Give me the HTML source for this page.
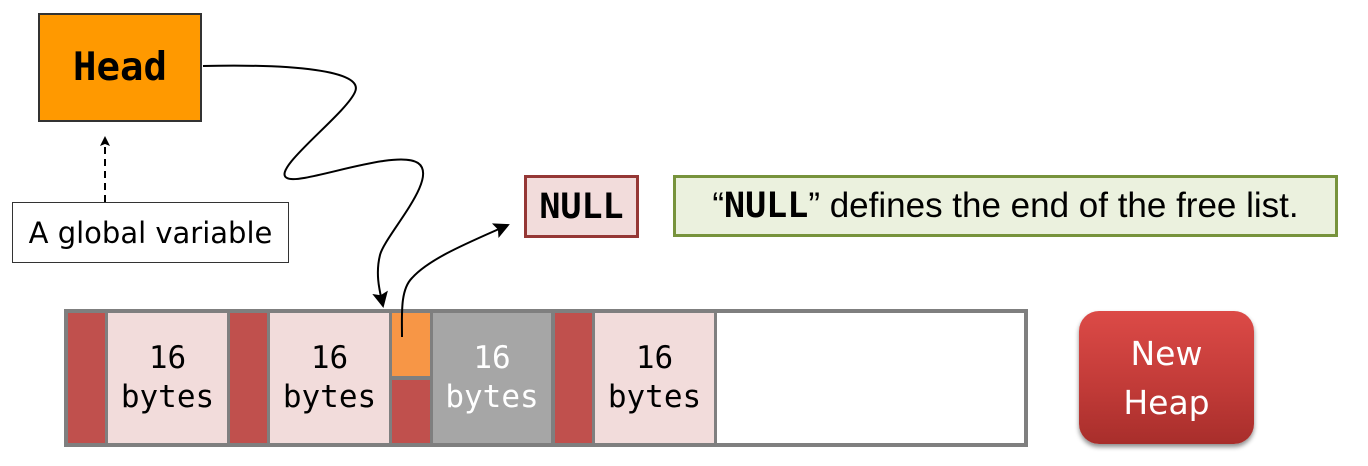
<!DOCTYPE html>
<html><head><meta charset="utf-8"><style>
html,body{margin:0;padding:0;background:#fff;}
body{width:1368px;height:466px;position:relative;overflow:hidden;font-family:"Liberation Sans",sans-serif;}
.a{position:absolute;box-sizing:border-box;}
.cell{position:absolute;box-sizing:border-box;font-family:"DejaVu Sans Mono","Liberation Mono",monospace;font-size:31px;line-height:39px;text-align:center;display:flex;align-items:center;justify-content:center;}
</style></head><body>
<div class="a" style="left:38px;top:13px;width:164px;height:109px;background:#ff9900;border:2px solid #333;display:flex;align-items:center;justify-content:center;font-family:'DejaVu Sans Mono',monospace;font-weight:bold;font-size:39px;">Head</div>
<div class="a" style="left:12px;top:202px;width:277px;height:61px;border:1.5px solid #333;background:#fff;font-family:'DejaVu Sans',sans-serif;font-size:29px;display:flex;align-items:center;justify-content:center;">A global variable</div>
<div class="a" style="left:524px;top:175px;width:115px;height:63px;border:3px solid #953735;background:#f2dcdb;font-family:'DejaVu Sans Mono',monospace;font-weight:bold;font-size:35px;display:flex;align-items:center;justify-content:center;">NULL</div>
<div class="a" style="left:673px;top:175px;width:665px;height:62px;border:3px solid #77933c;background:#ebf1de;font-size:35px;display:flex;align-items:center;justify-content:center;white-space:nowrap;">“<b style="font-family:'DejaVu Sans Mono',monospace;">NULL</b>” defines the end of the free list.</div>

<div class="a" style="left:64px;top:309px;width:964px;height:138px;border:4px solid #7f7f7f;background:#fff;"></div>
<div class="cell" style="left:68px;top:313px;width:37px;height:130px;background:#c0504d;"></div>
<div class="cell" style="left:108px;top:313px;width:119px;height:130px;background:#f2dcdb;">16<br>bytes</div>
<div class="a" style="left:105px;top:313px;width:3px;height:130px;background:#7f7f7f;"></div>
<div class="a" style="left:227px;top:313px;width:3px;height:130px;background:#7f7f7f;"></div>
<div class="cell" style="left:230px;top:313px;width:37px;height:130px;background:#c0504d;"></div>
<div class="a" style="left:267px;top:313px;width:3px;height:130px;background:#7f7f7f;"></div>
<div class="cell" style="left:270px;top:313px;width:119px;height:130px;background:#f2dcdb;">16<br>bytes</div>
<div class="a" style="left:389px;top:313px;width:3px;height:130px;background:#7f7f7f;"></div>
<div class="cell" style="left:392px;top:313px;width:38px;height:63px;background:#f79646;"></div>
<div class="a" style="left:392px;top:376px;width:38px;height:4px;background:#7f7f7f;"></div>
<div class="cell" style="left:392px;top:380px;width:38px;height:63px;background:#c0504d;"></div>
<div class="a" style="left:430px;top:313px;width:3px;height:130px;background:#7f7f7f;"></div>
<div class="cell" style="left:433px;top:313px;width:118px;height:130px;background:#a6a6a6;color:#fff;">16<br>bytes</div>
<div class="a" style="left:551px;top:313px;width:4px;height:130px;background:#7f7f7f;"></div>
<div class="cell" style="left:555px;top:313px;width:37px;height:130px;background:#c0504d;"></div>
<div class="a" style="left:592px;top:313px;width:3px;height:130px;background:#7f7f7f;"></div>
<div class="cell" style="left:595px;top:313px;width:119px;height:130px;background:#f2dcdb;">16<br>bytes</div>
<div class="a" style="left:714px;top:313px;width:3px;height:130px;background:#7f7f7f;"></div>

<div class="a" style="left:1079px;top:311px;width:175px;height:133px;border-radius:20px;background:linear-gradient(#dc4a47,#c03a37 60%,#a82e2b);box-shadow:0 3px 5px rgba(0,0,0,0.45);color:#fff;font-family:'DejaVu Sans',sans-serif;font-size:33px;line-height:49px;display:flex;align-items:center;justify-content:center;text-align:center;">New<br>Heap</div>

<svg class="a" style="left:0;top:0" width="1368" height="466">
<defs>
<marker id="ar" markerWidth="10" markerHeight="10" refX="8" refY="5" orient="auto" markerUnits="userSpaceOnUse"><path d="M0,0 L10,5 L0,10 L2,5 z" fill="#000"/></marker>
<marker id="ar2" markerWidth="16" markerHeight="16" refX="14" refY="8" orient="auto" markerUnits="userSpaceOnUse"><path d="M0,0 L16,8 L0,16 L3,8 z" fill="#000"/></marker>
</defs>
<line x1="105" y1="202" x2="105" y2="138" stroke="#000" stroke-width="2" stroke-dasharray="7,5" marker-end="url(#ar)"/>
<path d="M203,66 C290,64 365,70 355,92 C345,115 270,170 287,178 C300,186 395,148 418,163 C440,178 385,235 380,255 C375,275 380,292 383,306" fill="none" stroke="#000" stroke-width="2" marker-end="url(#ar2)"/>
<path d="M402,337 C402,315 400,290 412,278 C430,258 470,242 508,225" fill="none" stroke="#000" stroke-width="2" marker-end="url(#ar2)"/>
</svg>
</body></html>
